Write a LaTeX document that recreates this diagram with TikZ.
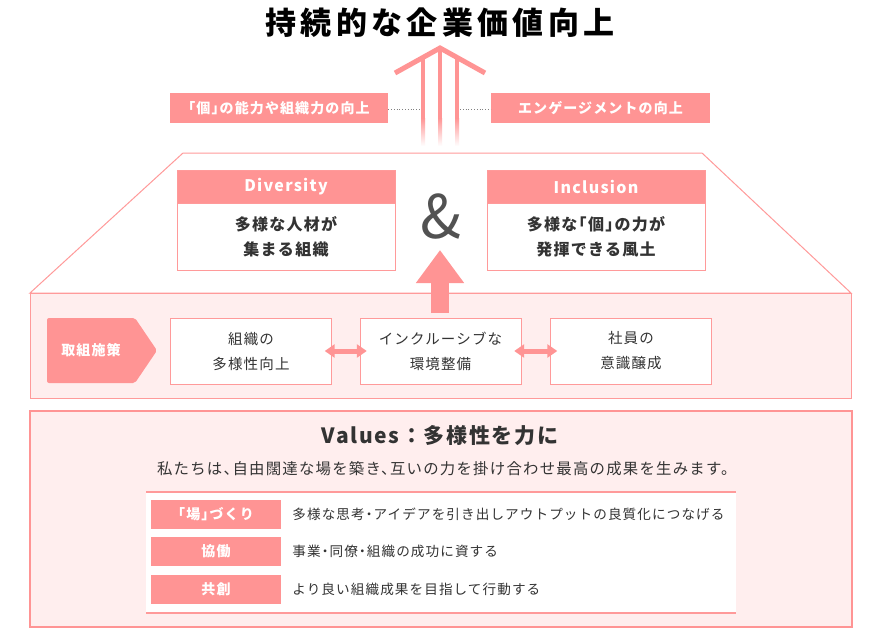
\documentclass[tikz,border=0pt]{standalone}
\usepackage{fontspec}
\setmainfont{Noto Sans CJK JP}[LetterSpace=8,RawFeature=+halt]
\newfontfamily\titlefont{Noto Sans CJK JP}[LetterSpace=14]
\newfontfamily\fullfont{Noto Sans CJK JP}[LetterSpace=8]
\usetikzlibrary{arrows.meta,positioning}
\definecolor{pk}{HTML}{FF9494}
\definecolor{pkline}{HTML}{FF9A9A}
\definecolor{pkbg}{HTML}{FFEEEE}
\definecolor{txt}{HTML}{333333}
\begin{document}
\begin{tikzpicture}[x=1pt,y=-1pt,
	lbl/.style={fill=pk,text=white,inner sep=0pt,minimum height=30pt,font=\bfseries\fontsize{14}{14}\selectfont},
	head/.style={fill=pk,draw=pkline,text=white,inner sep=0pt,minimum width=218pt,minimum height=33pt,font=\bfseries\fontsize{16}{16}\selectfont},
	body/.style={fill=white,draw=pkline,text=txt,inner sep=0pt,align=center,minimum width=218pt,minimum height=67pt,font=\bfseries\fontsize{16}{25}\selectfont},
	measure/.style={fill=white,draw=pkline,text=txt,inner sep=0pt,align=center,minimum width=161pt,minimum height=66pt,font=\fontsize{14.5}{25}\selectfont},
	dblarrow/.style={pk,line width=5pt,{Triangle[width=13pt,length=10pt]}-{Triangle[width=13pt,length=10pt]}},
	cell/.style={fill=pk,text=white,inner sep=0pt,minimum width=130pt,minimum height=29pt,font=\bfseries\fontsize{14}{14}\selectfont},
	rowtext/.style={text=txt,inner sep=0pt,font=\fontsize{13.6}{14}\selectfont}]
\useasboundingbox (0,0) rectangle (880,632);
\fill[white] (0,0) rectangle (880,632);

% title and upward arrow
\node[font=\titlefont\bfseries\fontsize{31}{31}\selectfont,text=black] (title) at (440,23) {持続的な企業価値向上};
\draw[pk,line width=5pt] (395,73) -- (440,48) -- (485,73);
\foreach \x/\y in {423/58,440/48,457/58}{
	\fill[pk] (\x-2,\y) rectangle (\x+2,118);
	\shade[top color=pk,bottom color=white] (\x-2,118) rectangle (\x+2,146);
}
\node[lbl,minimum width=218pt] (lbl1) at (279,108) {「個」の能力や組織力の向上};
\node[lbl,minimum width=219pt] (lbl2) at (600.5,108) {エンゲージメントの向上};
\coordinate (lineL) at (420,109);
\coordinate (lineR) at (460,109);
\draw[gray,dotted,line width=0.8pt] (lbl1.east |- lineL) -- (lineL);
\draw[gray,dotted,line width=0.8pt] (lineR) -- (lbl2.west |- lineR);

% trapezoid and band
\fill[pkbg] (30,293) rectangle (851,398);
\draw[pkline,line width=1pt] (30,293) -- (183,153) -- (702,153) -- (851,293) -- cycle;
\draw[pkline,line width=1pt] (30,293) rectangle (851,398);

\node[head] (divhead) at (286,186.5) {Diversity};
\node[body,below=0pt of divhead] (divbody) {多様な人材が\\集まる組織};
\node[head] (inchead) at (596,186.5) {Inclusion};
\node[body,below=0pt of inchead] (incbody) {多様な「個」の力が\\発揮できる風土};
\node[font=\fontsize{60}{60}\selectfont,text=txt!85] (amp) at (441,217) {\&};

\coordinate (upfoot) at (440,313);
\coordinate (uptip) at (440,250);
\draw[pk,line width=18pt,-{Triangle[width=46pt,length=33pt]}] (upfoot) -- (uptip);

\fill[pk,rounded corners=2pt] (47,318) -- (135,318) -- (157,350.5) -- (135,383) -- (47,383) -- cycle;
\node[font=\bfseries\fontsize{14}{14}\selectfont,text=white] (tori) at (91,350) {取組施策};
\node[measure] (m1) at (251,351) {組織の\\多様性向上};
\node[measure] (m2) at (440.5,351) {インクルーシブな\\環境整備};
\node[measure] (m3) at (631,351) {社員の\\意識醸成};
\draw[dblarrow,shorten <=-7pt,shorten >=-7pt] (m1.east) -- (m2.west);
\draw[dblarrow,shorten <=-7pt,shorten >=-7pt] (m2.east) -- (m3.west);

% values
\draw[pk,line width=2pt,fill=pkbg] (30,411) rectangle (852,627);
\node[font=\fullfont\bfseries\fontsize{21}{21}\selectfont,text=txt] (vtitle) at (440,436) {Values：多様性を力に};
\node[font=\fontsize{15.4}{15}\selectfont,text=txt] (vsent) at (443,469) {私たちは、自由闊達な場を築き、互いの力を掛け合わせ最高の成果を生みます。};
\fill[white] (146,492) rectangle (736,613);
\draw[pkline,line width=1.5pt] (146,492) -- (736,492);
\draw[pkline,line width=1.5pt] (146,613) -- (736,613);
\node[cell] (c1) at (216,514) {「場」づくり};
\node[rowtext,right=11pt of c1] (r1) {多様な思考・アイデアを引き出しアウトプットの良質化につなげる};
\node[cell] (c2) at (216,551.5) {協働};
\node[rowtext,right=11pt of c2] (r2) {事業・同僚・組織の成功に資する};
\node[cell] (c3) at (216,589) {共創};
\node[rowtext,right=11pt of c3] (r3) {より良い組織成果を目指して行動する};
\end{tikzpicture}
\end{document}
